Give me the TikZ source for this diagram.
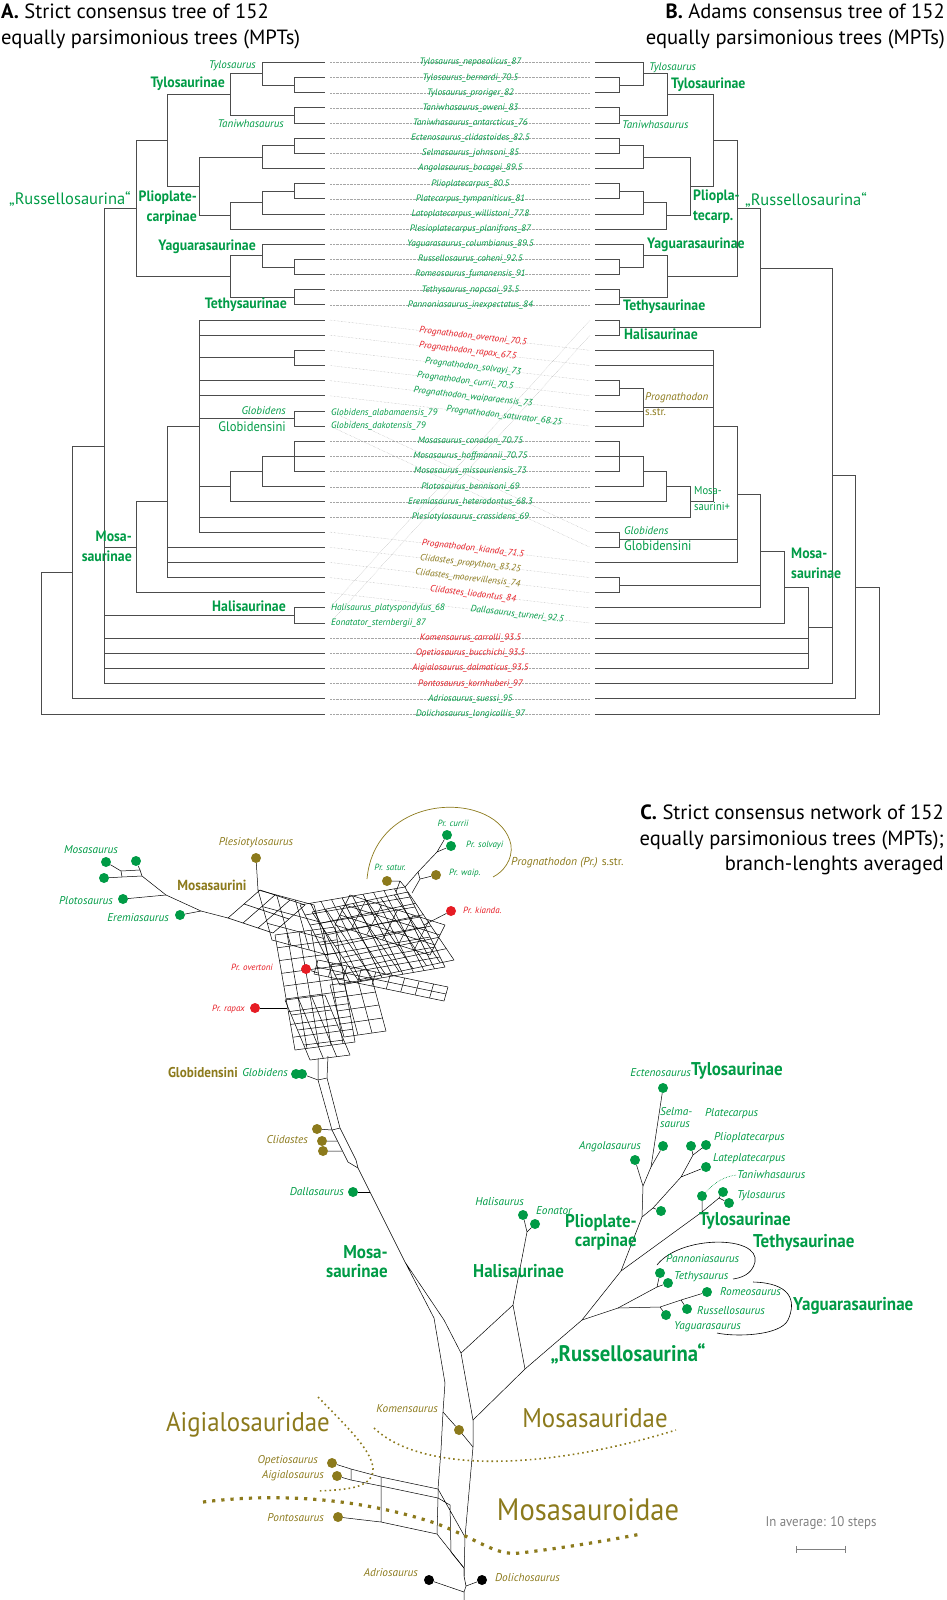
\documentclass[tikz,border=0pt]{standalone}
\usepackage{fontspec}
\setmainfont{PT Sans}
\newfontfamily\condfont[FakeStretch=0.92]{PT Sans}
\usetikzlibrary{arrows.meta}
\definecolor{taxgreen}{RGB}{0,155,70}
\definecolor{taxolive}{RGB}{140,122,28}
\definecolor{taxred}{RGB}{230,28,36}
\colorlet{treelines}{black!70}
\colorlet{tiplines}{black!35}

\begin{document}
\begin{tikzpicture}[x=1pt, y=-1pt,
  branch/.style={treelines, line width=0.9pt},
  tipline/.style={tiplines, densely dotted, line width=0.4pt},
  midlabel/.style={font=\fontsize{9.3}{10}\selectfont\itshape, inner sep=0pt},
  clade/.style={font=\condfont\bfseries\fontsize{15}{20.5}\selectfont, text=taxgreen, inner sep=0pt},
  tribe/.style={font=\condfont\fontsize{13.7}{16}\selectfont, text=taxgreen, inner sep=0pt},
  genus/.style={font=\fontsize{11}{12}\selectfont\itshape, text=taxgreen, inner sep=0pt},
  title/.style={font=\fontsize{20.6}{25.5}\selectfont, inner sep=0pt},
  netline/.style={black, line width=0.5pt},
  taxdot/.style={circle, fill=#1, inner sep=0pt, minimum size=10pt},
  netlabel/.style={font=\fontsize{11.3}{12.5}\selectfont\itshape, inner sep=0pt},
  prlabel/.style={font=\fontsize{9}{10}\selectfont\itshape, inner sep=0pt},
  netclade/.style={font=\condfont\bfseries\fontsize{18.5}{19}\selectfont, inner sep=0pt},
  bigname/.style={font=\condfont\fontsize{27}{30}\selectfont, text=taxolive, inner sep=0pt},
  smalldots/.style={taxolive, line width=1.6pt, dash pattern=on 1.6pt off 3.2pt},
  bigdots/.style={taxolive, line width=3.2pt, dash pattern=on 3.2pt off 6pt}
]
\useasboundingbox (0,0) rectangle (947,1600);

% titles
\node[title, anchor=north west, align=left] (titleA) at (1,4)
  {\textbf{A.} Strict consensus tree of 152\\equally parsimonious trees (MPTs)};
\node[title, anchor=north east, align=right] (titleB) at (945,4)
  {\textbf{B.} Adams consensus tree of 152\\equally parsimonious trees (MPTs)};
\node[title, anchor=north east, align=right] (titleC) at (944,805)
  {\textbf{C.} Strict consensus network of 152\\equally parsimonious trees (MPTs);\\branch-lenghts averaged};

% tip coordinates of both trees
\foreach \i in {1,...,44}
{
    \coordinate (a\i) at (325, {62.5+(\i-1)*15.15});
    \coordinate (b\i) at (595, {62.5+(\i-1)*15.15});
}

% tree A: inner nodes
\coordinate (ai23) at (294,85.2);   \coordinate (aiTylo) at (262,73.9);
\coordinate (ai45) at (294,115.5);  \coordinate (aiTys) at (230,94.7);
\coordinate (ai67) at (294,145.8);  \coordinate (ai678) at (262,157.2);
\coordinate (ai910) at (294,191.3); \coordinate (ai911) at (262,202.6);
\coordinate (ai912) at (230,215.9); \coordinate (aiPlio) at (199,186.5);
\coordinate (aiTP) at (167,140.6);
\coordinate (ai1415) at (294,267);  \coordinate (ai1315) at (262,255.7);
\coordinate (ai1617) at (294,297.3); \coordinate (aiYT) at (230,276.5);
\coordinate (aiRuss) at (136,208.6);
\coordinate (ai2021) at (294,357.9); \coordinate (ai2425) at (294,418.5);
\coordinate (ai2628) at (294,456.4); \coordinate (aiM2) at (262,471.55);
\coordinate (aiM3) at (230,486.7);  \coordinate (aiPG) at (199,426.1);
\coordinate (aiMA) at (167,501.8);  \coordinate (aiMos) at (136,547.3);
\coordinate (aiHal) at (294,615.5); \coordinate (aiFam) at (104,446.1);
\coordinate (aiN2) at (72,572.45);  \coordinate (aiRoot) at (41,643.2);

\foreach \pa/\ch in {ai23/a2, ai23/a3, aiTylo/a1, aiTylo/ai23, ai45/a4, ai45/a5,
    aiTys/aiTylo, aiTys/ai45, ai67/a6, ai67/a7, ai678/ai67, ai678/a8,
    ai910/a9, ai910/a10, ai911/ai910, ai911/a11, ai912/ai911, ai912/a12,
    aiPlio/ai678, aiPlio/ai912, aiTP/aiTys, aiTP/aiPlio,
    ai1415/a14, ai1415/a15, ai1315/a13, ai1315/ai1415, ai1617/a16, ai1617/a17,
    aiYT/ai1315, aiYT/ai1617, aiRuss/aiTP, aiRuss/aiYT,
    ai2021/a20, ai2021/a21, ai2425/a24, ai2425/a25,
    ai2628/a26, ai2628/a27, ai2628/a28, aiM2/ai2628, aiM2/a29, aiM3/aiM2, aiM3/a30,
    aiPG/a18, aiPG/a19, aiPG/ai2021, aiPG/a22, aiPG/a23, aiPG/ai2425, aiPG/aiM3,
    aiPG/a31, aiPG/a32, aiMA/aiPG, aiMA/a33, aiMA/a34, aiMA/a35,
    aiMos/aiMA, aiMos/a36, aiHal/a37, aiHal/a38,
    aiFam/aiRuss, aiFam/aiMos, aiFam/aiHal, aiFam/a39, aiFam/a40, aiFam/a41, aiFam/a42,
    aiN2/aiFam, aiN2/a43, aiRoot/aiN2, aiRoot/a44}
{
    \draw[branch] (\pa) |- (\ch);
}

% tree B: inner nodes
\coordinate (bi23) at (619,85.2);   \coordinate (biTylo) at (643,73.9);
\coordinate (bi45) at (619,115.5);  \coordinate (biTys) at (667,94.7);
\coordinate (bi67) at (619,145.8);  \coordinate (bi678) at (643,157.2);
\coordinate (bi910) at (619,191.3); \coordinate (bi911) at (643,202.6);
\coordinate (bi912) at (666,215.9); \coordinate (biPlio) at (690,186.5);
\coordinate (biTP) at (713,140.6);
\coordinate (bi1415) at (619,267);  \coordinate (bi1315) at (643,255.7);
\coordinate (bi1617) at (619,297.3); \coordinate (biYT) at (667,276.5);
\coordinate (biRuss) at (737,208.6);
\coordinate (biHal) at (619,327.6); \coordinate (biRH) at (760,268.1);
\coordinate (bi2223) at (619,388.2); \coordinate (biPSS) at (643,407.2);
\coordinate (bi2628) at (619,456.4); \coordinate (biM2) at (643,471.55);
\coordinate (biM3) at (666,486.7);  \coordinate (biMini) at (690,501.85);
\coordinate (biPA) at (713,426.1);  \coordinate (biGlob) at (619,539.7);
\coordinate (biMplus) at (737,494.3); \coordinate (biClid) at (619,585.2);
\coordinate (biM5) at (760,551.1);  \coordinate (biM6) at (784,587.1);
\coordinate (biM7) at (808,627.8);  \coordinate (biM8) at (832,475.9);
\coordinate (biM9) at (855,587.35); \coordinate (biRoot) at (879,650.65);

\foreach \pa/\ch in {bi23/b2, bi23/b3, biTylo/b1, biTylo/bi23, bi45/b4, bi45/b5,
    biTys/biTylo, biTys/bi45, bi67/b6, bi67/b7, bi678/bi67, bi678/b8,
    bi910/b9, bi910/b10, bi911/bi910, bi911/b11, bi912/bi911, bi912/b12,
    biPlio/bi678, biPlio/bi912, biTP/biTys, biTP/biPlio,
    bi1415/b14, bi1415/b15, bi1315/b13, bi1315/bi1415, bi1617/b16, bi1617/b17,
    biYT/bi1315, biYT/bi1617, biRuss/biTP, biRuss/biYT,
    biHal/b18, biHal/b19, biRH/biRuss, biRH/biHal,
    bi2223/b22, bi2223/b23, biPSS/bi2223, biPSS/b24, biPSS/b25,
    bi2628/b26, bi2628/b27, bi2628/b28, biM2/bi2628, biM2/b29, biM3/biM2, biM3/b30,
    biMini/biM3, biMini/b31, biPA/b20, biPA/b21, biPA/biPSS, biPA/biMini,
    biGlob/b32, biGlob/b33, biMplus/biPA, biMplus/biGlob, biMplus/b34,
    biClid/b35, biClid/b36, biM5/biMplus, biM5/biClid, biM5/b37,
    biM6/biM5, biM6/b38, biM7/biM6, biM7/b39, biM7/b40, biM7/b41,
    biM8/biRH, biM8/biM7, biM8/b42, biM9/biM8, biM9/b43, biRoot/biM9, biRoot/b44}
{
    \draw[branch] (\pa) |- (\ch);
}

% tip names between the trees
\foreach \lt/\rt/\nm/\cl/\ps in {
    1/1/Tylosaurus\_nepaeolicus\_87/taxgreen/.54,
    2/2/Tylosaurus\_bernardi\_70.5/taxgreen/.54,
    3/3/Tylosaurus\_proriger\_82/taxgreen/.54,
    4/4/Taniwhasaurus\_oweni\_83/taxgreen/.54,
    5/5/Taniwhasaurus\_antarcticus\_76/taxgreen/.54,
    6/6/Ectenosaurus\_clidastoides\_82.5/taxgreen/.54,
    7/7/Selmasaurus\_johnsoni\_85/taxgreen/.54,
    8/8/Angolasaurus\_bocagei\_89.5/taxgreen/.54,
    9/9/Plioplatecarpus\_80.5/taxgreen/.54,
    10/10/Platecarpus\_tympaniticus\_81/taxgreen/.54,
    11/11/Latoplatecarpus\_willistoni\_77.8/taxgreen/.54,
    12/12/Plesioplatecarpus\_planifrons\_87/taxgreen/.54,
    13/13/Yaguarasaurus\_columbianus\_89.5/taxgreen/.54,
    14/14/Russellosaurus\_coheni\_92.5/taxgreen/.54,
    15/15/Romeosaurus\_fumanensis\_91/taxgreen/.54,
    16/16/Tethysaurus\_nopcsai\_93.5/taxgreen/.54,
    17/17/Pannoniasaurus\_inexpectatus\_84/taxgreen/.54,
    18/20/Prognathodon\_overtoni\_70.5/taxred/.55,
    19/21/Prognathodon\_rapax\_67.5/taxred/.53,
    20/22/Prognathodon\_solvayi\_73/taxgreen/.55,
    21/23/Prognathodon\_currii\_70.5/taxgreen/.52,
    22/24/Prognathodon\_waiparaensis\_73/taxgreen/.55,
    23/25/Prognathodon\_saturator\_68.25/taxgreen/.67,
    26/26/Mosasaurus\_conodon\_70.75/taxgreen/.54,
    27/27/Mosasaurus\_hoffmannii\_70.75/taxgreen/.54,
    28/28/Mosasaurus\_missouriensis\_73/taxgreen/.54,
    29/29/Plotosaurus\_bennisoni\_69/taxgreen/.54,
    30/30/Eremiasaurus\_heterodontus\_68.3/taxgreen/.54,
    31/31/Plesiotylosaurus\_crassidens\_69/taxgreen/.54,
    32/34/Prognathodon\_kianda\_71.5/taxred/.55,
    33/35/Clidastes\_propython\_83.25/taxolive/.54,
    34/36/Clidastes\_moorevillensis\_74/taxolive/.53,
    35/37/Clidastes\_liodontus\_84/taxred/.55,
    36/38/Dallasaurus\_turneri\_92.5/taxgreen/.72,
    39/39/Komensaurus\_carrolli\_93.5/taxred/.54,
    40/40/Opetiosaurus\_bucchichi\_93.5/taxred/.54,
    41/41/Aigialosaurus\_dalmaticus\_93.5/taxred/.54,
    42/42/Pontosaurus\_kornhuberi\_97/taxred/.54,
    43/43/Adriosaurus\_suessi\_95/taxgreen/.54,
    44/44/Dolichosaurus\_longicollis\_97/taxgreen/.54}
{
    \draw[tipline] ([xshift=5]a\lt) -- ([xshift=-5]b\rt)
        node[midlabel, pos=\ps, sloped, text=\cl] (m\lt) {\nm};
}
% crossing lines with names at the left end
\foreach \lt/\rt in {24/32, 25/33, 37/18, 38/19}
{
    \draw[tipline] ([xshift=5]a\lt) -- ([xshift=-5]b\rt);
}
\node[midlabel, text=taxgreen, anchor=west] (m24) at ([xshift=6,yshift=-2]a24) {Globidens\_alabamaensis\_79};
\node[midlabel, text=taxgreen, anchor=west] (m25) at ([xshift=6]a25) {Globidens\_dakotensis\_79};
\node[midlabel, text=taxgreen, anchor=west] (m37) at ([xshift=6]a37) {Halisaurus\_platyspondylus\_68};
\node[midlabel, text=taxgreen, anchor=west] (m38) at ([xshift=6]a38) {Eonatator\_sternbergii\_87};

% tree A labels
\node[genus, anchor=east] (aTyloName) at (256,66) {Tylosaurus};
\node[genus, anchor=east] (aTaniName) at (284,124) {Taniwhasaurus};
\node[clade, anchor=east] (aTylosaurinae) at (225,84) {Tylosaurinae};
\node[font=\fontsize{16.5}{18}\selectfont, text=taxgreen, inner sep=0pt, anchor=east] (aRussellosaurina) at (131,199) {„Russellosaurina“};
\node[clade, anchor=east, align=right] (aPlioplatecarpinae) at (197,207.5) {Plioplate-\\carpinae};
\node[clade, anchor=east] (aYaguarasaurinae) at (256,247) {Yaguarasaurinae};
\node[clade, anchor=east] (aTethysaurinae) at (287,305) {Tethysaurinae};
\node[genus, anchor=east] (aGlobName) at (286,411) {Globidens};
\node[tribe, anchor=east] (aGlobidensini) at (286,427) {Globidensini};
\node[clade, anchor=east, align=right] (aMosasaurinae) at (132,546.5) {Mosa-\\saurinae};
\node[clade, anchor=east] (aHalisaurinae) at (286,606) {Halisaurinae};

% tree B labels
\node[genus, anchor=west] (bTyloName) at (649,68) {Tylosaurus};
\node[clade, anchor=west] (bTylosaurinae) at (671,85) {Tylosaurinae};
\node[genus, anchor=west] (bTaniName) at (622,125) {Taniwhasaurus};
\node[clade, anchor=west, align=left] (bPlioplatecarp) at (693,206.5) {Pliopla-\\tecarp.};
\node[font=\fontsize{16.5}{18}\selectfont, text=taxgreen, inner sep=0pt, anchor=west] (bRussellosaurina) at (745,200) {„Russellosaurina“};
\node[clade, anchor=west] (bYaguarasaurinae) at (647,245) {Yaguarasaurinae};
\node[clade, anchor=west] (bTethysaurinae) at (623,307) {Tethysaurinae};
\node[clade, anchor=west] (bHalisaurinae) at (624,334) {Halisaurinae};
\node[genus, text=taxolive, anchor=west] (bProgName) at (645,398) {Prognathodon};
\node[genus, text=taxolive, font=\fontsize{11}{12}\selectfont, anchor=west] (bSstr) at (645,412) {s.str.};
\node[tribe, font=\condfont\fontsize{11.5}{15.5}\selectfont, anchor=west, align=left] (bMosasaurini) at (694,498.5) {Mosa-\\saurini+};
\node[genus, anchor=west] (bGlobName) at (624,531) {Globidens};
\node[tribe, anchor=west] (bGlobidensini) at (624,546) {Globidensini};
\node[clade, anchor=west, align=left] (bMosasaurinae) at (791,563.5) {Mosa-\\saurinae};

% network: tangle of splits
\foreach \ox/\oy/\ux/\uy/\vx/\vy/\nu/\nv in {228/918/32/-28/45/15/2/3,
    258/890/56/15/14/50/3/3, 300/905/105/-18/40/80/10/8, 312/912/96/-20/46/68/7/6,
    275/935/60/-8/20/115/5/9, 318/960/130/27/-4/14/9/2, 285/1000/40/-5/25/60/3/4,
    330/985/42/-6/14/52/3/4, 335/925/95/30/15/-30/6/3}
{
    \foreach \i in {0,...,\nu}
        \draw[netline] ({\ox+\i*\ux/\nu},{\oy+\i*\uy/\nu}) -- ++(\vx,\vy);
    \foreach \j in {0,...,\nv}
        \draw[netline] ({\ox+\j*\vx/\nv},{\oy+\j*\vy/\nv}) -- ++(\ux,\uy);
}

% network: Mosasaurini arm
\node[taxdot=taxgreen] (dMosA) at (106,862) {};
\node[taxdot=taxgreen] (dMosB) at (136,861) {};
\node[taxdot=taxgreen] (dMosC) at (104,878) {};
\node[taxdot=taxgreen] (dPloto) at (123,899) {};
\node[taxdot=taxgreen] (dErem) at (180,915) {};
\node[taxdot=taxolive] (dPlesio) at (256,858) {};
\coordinate (jMos1) at (121,871);
\coordinate (jMos2) at (140,870);
\coordinate (jMos3) at (142,876);
\coordinate (jMos4) at (122,877);
\coordinate (jPloto) at (166,895);
\coordinate (jErem) at (201,911);
\coordinate (jMeshL) at (228,918);
\coordinate (jMeshT) at (258,890);
\draw[netline] (dMosA) -- (jMos1) -- (jMos2) -- (dMosB);
\draw[netline] (dMosC) -- (jMos4) -- (jMos3) -- (jPloto) -- (jErem) -- (jMeshL);
\draw[netline] (jMos1) -- (jMos4) (jMos2) -- (jMos3);
\draw[netline] (dPloto) -- (jPloto) (dErem) -- (jErem);
\draw[netline] (dPlesio) -- (jMeshT);

% network: Prognathodon
\node[taxdot=taxgreen] (dCurr) at (447,835) {};
\node[taxdot=taxgreen] (dSolv) at (451,846) {};
\node[taxdot=taxolive] (dSatur) at (387,881) {};
\node[taxdot=taxolive] (dWaip) at (436,875) {};
\node[taxdot=taxred] (dKian) at (451,911) {};
\node[taxdot=taxred] (dOvert) at (306,969) {};
\node[taxdot=taxred] (dRapax) at (255,1008) {};
\coordinate (jCS) at (437,852);
\coordinate (jPr1) at (418,872);
\coordinate (jPr2) at (405,887);
\coordinate (jWp) at (420,879);
\coordinate (jWp2) at (412,893);
\coordinate (jSt) at (400,881);
\coordinate (jSt2) at (396,892);
\coordinate (jKi) at (424,925);
\coordinate (jOv) at (318,973);
\coordinate (jRp) at (287,1008);
\draw[netline] (dCurr) -- (jCS) (dSolv) -- (jCS) (jCS) -- (jPr1) -- (jPr2);
\draw[netline] (dWaip) -- (jWp) -- (jWp2) (jPr1) -- (jWp);
\draw[netline] (dSatur) -- (jSt) -- (jSt2) (jSt) -- (jPr2);
\draw[netline] (dKian) -- (jKi);
\draw[netline] (dOvert) -- (jOv);
\draw[netline] (dRapax) -- (jRp);
\draw[taxolive, line width=0.7pt] (367,879) .. controls (375,790) and (500,790) .. (511,845)
    .. controls (513,860) and (503,872) .. (493,877);

% network: stem of Mosasaurinae
\node[taxdot=taxgreen] (dGlobA) at (296,1074) {};
\node[taxdot=taxgreen] (dGlobB) at (302,1074) {};
\node[taxdot=taxolive] (dClidA) at (317,1129) {};
\node[taxdot=taxolive] (dClidB) at (322,1141) {};
\node[taxdot=taxolive] (dClidC) at (323,1151) {};
\node[taxdot=taxgreen] (dDalla) at (353,1192) {};
\coordinate (jSa) at (318,1058); \coordinate (jSb) at (328,1056);
\coordinate (jS1) at (318,1080); \coordinate (jS2) at (327,1078);
\coordinate (jS3) at (332,1130); \coordinate (jS4) at (340,1128);
\coordinate (jS5) at (348,1162); \coordinate (jS6) at (356,1160);
\coordinate (jSm) at (358,1168);
\coordinate (jC2) at (337,1141); \coordinate (jC3) at (342,1151);
\coordinate (jDal) at (370,1192);
\coordinate (jSplit) at (405,1262);
\coordinate (jMs) at (434,1318);
\coordinate (jMs2) at (444,1320);
\draw[netline] (jSa) -- (jS1) -- (jS3) -- (jS5) -- (jSm);
\draw[netline] (jSb) -- (jS2) -- (jS4) -- (jS6) -- (jSm);
\draw[netline] (jS1) -- (jS2) (jS3) -- (jS4) (dGlobB) -- (jS1);
\draw[netline] (dClidA) -- (jS3) (dClidB) -- (jC2) (dClidC) -- (jC3);
\draw[netline] (jSm) -- (jDal) -- (jSplit) -- (jMs) (jSplit) -- (jMs2);
\draw[netline] (dDalla) -- (jDal);

% network: Halisaurinae
\node[taxdot=taxgreen] (dHalis) at (523,1215) {};
\node[taxdot=taxgreen] (dEona) at (535,1224) {};
\coordinate (jHal1) at (527,1232);
\coordinate (jHal2) at (513,1305);
\coordinate (jN1) at (461,1353);
\coordinate (jN2) at (525,1369);
\coordinate (jN3) at (473,1420);
\draw[netline] (dHalis) -- (jHal1) (dEona) -- (jHal1) (jHal1) -- (jHal2) -- (jN1) (jHal2) -- (jN2);

% network: Russellosaurina
\node[taxdot=taxgreen] (dEcten) at (663,1088) {};
\node[taxdot=taxgreen] (dSelma) at (663,1146) {};
\node[taxdot=taxgreen] (dAngola) at (635,1160) {};
\node[taxdot=taxgreen] (dPlate) at (691,1146) {};
\node[taxdot=taxgreen] (dPlio) at (706,1145) {};
\node[taxdot=taxgreen] (dLate) at (706,1167) {};
\node[taxdot=taxgreen] (dPlesioP) at (661,1211) {};
\node[taxdot=taxgreen] (dTan) at (702,1196) {};
\node[taxdot=taxgreen] (dTyA) at (723,1192) {};
\node[taxdot=taxgreen] (dTyB) at (729,1203) {};
\node[taxdot=taxgreen] (dPann) at (660,1273) {};
\node[taxdot=taxgreen] (dTeth) at (668,1283) {};
\node[taxdot=taxgreen] (dRomeo) at (707,1292) {};
\node[taxdot=taxgreen] (dRuss) at (687,1309) {};
\node[taxdot=taxgreen] (dYagua) at (666,1315) {};
\coordinate (jR6) at (651,1167); \coordinate (jR5) at (643,1186);
\coordinate (jR4) at (642,1217); \coordinate (jR3) at (621,1271);
\coordinate (jR2) at (582,1320);
\coordinate (jP1) at (653,1208); \coordinate (jP2) at (681,1177);
\coordinate (jP3) at (693,1155);
\coordinate (jT1) at (702,1212); \coordinate (jT2) at (719,1198);
\coordinate (jY1) at (618,1308); \coordinate (jY2) at (660,1307);
\coordinate (jY3) at (681,1300); \coordinate (jTe) at (657,1287);
\draw[netline] (dEcten) -- (jR6) -- (jR5) -- (jR4) -- (jR3) -- (jR2) -- (jN2) -- (jN3);
\draw[netline] (dSelma) -- (jR6) (dAngola) -- (jR5);
\draw[netline] (jR4) -- (jP1) -- (jP2) -- (jP3) -- (dPlate) (jP3) -- (dPlio) (jP2) -- (dLate) (jP1) -- (dPlesioP);
\draw[netline] (jR3) -- (jT1) -- (jT2) -- (dTyA) (jT2) -- (dTyB) (jT1) -- (dTan);
\draw[netline] (jR2) -- (jY1) -- (jY2) -- (jY3) -- (dRomeo) (jY3) -- (dRuss) (jY2) -- (dYagua);
\draw[netline] (jY1) -- (jTe) -- (dPann) (jTe) -- (dTeth);
\draw[black, line width=0.6pt] (657,1265) .. controls (680,1235) and (760,1235) .. (755,1262)
    .. controls (752,1275) and (740,1278) .. (733,1279);
\draw[black, line width=0.6pt] (753,1282) .. controls (790,1283) and (797,1300) .. (788,1320)
    .. controls (780,1336) and (735,1337) .. (717,1333);

% network: base
\node[taxdot=taxolive] (dKomen) at (459,1430) {};
\node[taxdot=taxolive] (dOpet) at (332,1463) {};
\node[taxdot=taxolive] (dAigi) at (337,1476) {};
\node[taxdot=taxolive] (dPonto) at (338,1517) {};
\node[taxdot=black] (dAdrio) at (429,1580) {};
\node[taxdot=black] (dDolich) at (482,1580) {};
\coordinate (jL1) at (445,1383); \coordinate (jK1) at (443,1412);
\coordinate (jL2) at (441,1450); \coordinate (jL3) at (438,1489);
\coordinate (jA3) at (438,1498); \coordinate (jL4) at (437,1534);
\coordinate (jL5) at (464,1568);
\coordinate (jR7) at (473,1447); \coordinate (jR8) at (465,1537);
\coordinate (jO1) at (351,1469); \coordinate (jO2) at (381,1477);
\coordinate (jA1) at (351,1480); \coordinate (jA2) at (381,1486);
\coordinate (jP5) at (381,1522);
\coordinate (jMid1) at (450,1505); \coordinate (jMid2) at (451,1552);
\coordinate (jBase) at (464,1576);
\coordinate (jDo) at (466,1586); \coordinate (jAd) at (464,1592);
\coordinate (jRoot) at (464,1600);
\draw[netline] (jMs) -- (jL1) -- (jK1) -- (jL2) -- (jL3) -- (jA3) -- (jL4) -- (jL5) -- (jBase);
\draw[netline] (jMs2) -- (jN1) -- (jN3) -- (jR7) -- (jR8) -- (jBase);
\draw[netline] (jK1) -- (dKomen) -- (jR7);
\draw[netline] (dOpet) -- (jO1) -- (jO2) -- (jL3) (dAigi) -- (jA1) -- (jA2) -- (jA3);
\draw[netline] (jO1) -- (jA1) (jO2) -- (jA2) -- (jP5) (dPonto) -- (jP5) -- (jL4);
\draw[netline] (jL3) -- (jR8) (jA3) -- (jMid1) -- (jMid2) -- (jL5);
\draw[netline] (jBase) -- (jDo) -- (jAd) -- (jRoot) (dDolich) -- (jDo) (dAdrio) -- (jAd);

% network: group borders
\draw[smalldots] (318,1397) .. controls (350,1430) and (385,1462) .. (369,1480)
    .. controls (360,1489) and (340,1490) .. (317,1491);
\draw[smalldots] (374,1428) .. controls (420,1472) and (540,1472) .. (676,1430);
\draw[bigdots] (203,1502) .. controls (300,1490) and (380,1505) .. (435,1523)
    .. controls (480,1540) and (495,1556) .. (520,1553) .. controls (570,1547) and (610,1540) .. (641,1534);

% network labels
\node[netlabel, text=taxgreen] (nMosasaurus) at (91,850) {Mosasaurus};
\node[netlabel, text=taxgreen, anchor=east] (nPlotosaurus) at (113,901) {Plotosaurus};
\node[netlabel, text=taxgreen, anchor=east] (nEremiasaurus) at (169,918) {Eremiasaurus};
\node[netlabel, text=taxolive] (nPlesiotylosaurus) at (256,843) {Plesiotylosaurus};
\node[netclade, font=\condfont\bfseries\fontsize{14.6}{16}\selectfont, text=taxolive] (nMosasaurini) at (212,885) {Mosasaurini};
\node[prlabel, text=taxgreen] (nCurrii) at (453,823) {Pr. currii};
\node[prlabel, text=taxgreen, anchor=west] (nSolvayi) at (466,845) {Pr. solvayi};
\node[prlabel, text=taxgreen] (nSatur) at (390,867) {Pr. satur.};
\node[prlabel, text=taxgreen, anchor=west] (nWaip) at (449,873) {Pr. waip.};
\node[netlabel, font=\fontsize{11.5}{12.5}\selectfont, text=taxolive, anchor=west] (nProgSS) at (511,863) {\textit{Prognathodon (Pr.)} s.str.};
\node[prlabel, text=taxred, anchor=west] (nKianda) at (463,910) {Pr. kianda.};
\node[prlabel, text=taxred, anchor=east] (nOvertoni) at (273,967) {Pr. overtoni};
\node[prlabel, text=taxred, anchor=east] (nRapax) at (245,1009) {Pr. rapax};
\node[netclade, font=\condfont\bfseries\fontsize{14.2}{16}\selectfont, text=taxolive, anchor=east] (nGlobidensini) at (238,1073) {Globidensini};
\node[netlabel, text=taxgreen, anchor=east] (nGlobidens) at (288,1073) {Globidens};
\node[netlabel, text=taxolive, anchor=east] (nClidastes) at (308,1140) {Clidastes};
\node[netlabel, text=taxgreen, anchor=east] (nDallasaurus) at (344,1192) {Dallasaurus};
\node[netclade, text=taxgreen, anchor=east, align=right] (nMosasaurinae) at (388,1261.5) {Mosa-\\saurinae};
\node[netlabel, text=taxgreen, anchor=east] (nEctenosaurus) at (691,1073) {Ectenosaurus};
\node[netclade, text=taxgreen, anchor=west] (nTylosaurinaeTop) at (691,1071) {Tylosaurinae};
\node[netlabel, text=taxgreen, anchor=west, align=left] (nSelmasaurus) at (660,1117.5) {Selma-\\saurus};
\node[netlabel, text=taxgreen, anchor=west] (nPlatecarpus) at (705,1114) {Platecarpus};
\node[netlabel, text=taxgreen, anchor=east] (nAngolasaurus) at (641,1147) {Angolasaurus};
\node[netlabel, text=taxgreen, anchor=west] (nPlioplatecarpus) at (714,1138) {Plioplatecarpus};
\node[netlabel, text=taxgreen, anchor=west] (nLateplatecarpus) at (713,1159) {Lateplatecarpus};
\node[netlabel, text=taxgreen, anchor=west] (nTaniwhasaurus) at (737,1175) {Taniwhasaurus};
\draw[taxgreen, densely dotted, line width=0.6pt] (dTan.north east) .. controls (715,1182) and (725,1176) .. (nTaniwhasaurus.west);
\node[netlabel, text=taxgreen, anchor=west] (nTylosaurus) at (737,1196) {Tylosaurus};
\node[netclade, text=taxgreen, anchor=west] (nTylosaurinae) at (699,1221) {Tylosaurinae};
\node[netclade, text=taxgreen, anchor=east, align=right] (nPlioplatecarpinae) at (637,1232.5) {Plioplate-\\carpinae};
\node[netclade, text=taxgreen, anchor=west] (nTethysaurinae) at (753,1243) {Tethysaurinae};
\node[netlabel, text=taxgreen, anchor=west] (nPannoniasaurus) at (666,1259) {Pannoniasaurus};
\node[netlabel, text=taxgreen, anchor=west] (nTethysaurus) at (674,1277) {Tethysaurus};
\node[netlabel, text=taxgreen, anchor=west] (nRomeosaurus) at (720,1292) {Romeosaurus};
\node[netclade, text=taxgreen, anchor=west] (nYaguarasaurinae) at (793,1306) {Yaguarasaurinae};
\node[netlabel, text=taxgreen, anchor=west] (nRussellosaurus) at (697,1311) {Russellosaurus};
\node[netlabel, text=taxgreen, anchor=west] (nYaguarasaurus) at (674,1327) {Yaguarasaurus};
\node[netlabel, text=taxgreen, anchor=east] (nHalisaurus) at (524,1202) {Halisaurus};
\node[netlabel, text=taxgreen, anchor=west] (nEonator) at (536,1211) {Eonator};
\node[netclade, text=taxgreen, anchor=west] (nHalisaurinae) at (473,1271) {Halisaurinae};
\node[netclade, font=\condfont\bfseries\fontsize{22.5}{24}\selectfont, text=taxgreen] (nRussellosaurina) at (628,1354) {„Russellosaurina“};
\node[netlabel, text=taxolive, anchor=east] (nKomensaurus) at (438,1409) {Komensaurus};
\node[netlabel, text=taxolive, anchor=east] (nOpetiosaurus) at (318,1461) {Opetiosaurus};
\node[netlabel, text=taxolive, anchor=east] (nAigialosaurus) at (324,1476) {Aigialosaurus};
\node[netlabel, text=taxolive, anchor=east] (nPontosaurus) at (324,1518) {Pontosaurus};
\node[netlabel, text=taxolive, anchor=east] (nAdriosaurus) at (418,1573) {Adriosaurus};
\node[netlabel, text=taxolive, anchor=west] (nDolichosaurus) at (495,1578) {Dolichosaurus};
\node[bigname] (nAigialosauridae) at (248,1425) {Aigialosauridae};
\node[bigname] (nMosasauridae) at (595,1418) {Mosasauridae};
\node[bigname, font=\condfont\fontsize{31}{34}\selectfont] (nMosasauroidae) at (588,1510) {Mosasauroidae};

% scale bar
\node[font=\condfont\fontsize{14}{16}\selectfont, text=black!50, inner sep=0pt] (scaleText) at (821,1523) {In average: 10 steps};
\coordinate (sbL) at (796,1549);
\coordinate (sbR) at (846,1549);
\draw[black!50, line width=0.8pt, {Bar[width=7pt]}-{Bar[width=7pt]}] (sbL) -- (sbR);
\end{tikzpicture}
\end{document}
